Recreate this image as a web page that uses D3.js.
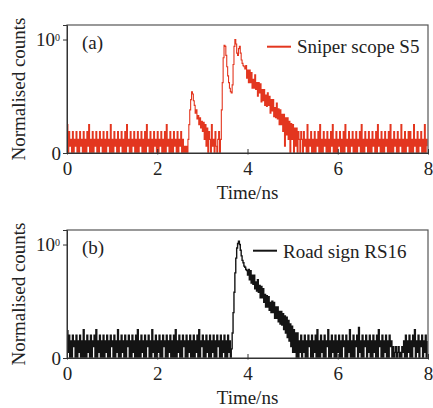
<!DOCTYPE html>
<html>
<head>
<meta charset="utf-8">
<script src="https://cdn.jsdelivr.net/npm/d3@7"></script>
<style>
  body { margin: 0; background: #fff; }
  svg text { font-family: "Liberation Serif", "DejaVu Serif", serif; fill: #222; }
</style>
</head>
<body>
<svg id="chart" width="433" height="408"></svg>
<script>
// time bins are 0.02 ns wide, values in % of peak
const binWidth = 0.02
const xTicks = [0, 2, 4, 6, 8]
const yTicks = [0, 1]
const panelTags = ["(a)", "(b)"]
const seriesNames = ["Sniper scope S5", "Road sign RS16"]
const seriesColors = ["#e3361f", "#141414"]

// (a) sniper scope S5
const sniperCounts = [
  25,0,19,6,12,0,19,0,12,6,19,0,12,0,19,6,12,0,19,0,
  12,0,19,6,25,0,12,0,19,0,12,6,19,0,12,0,19,6,12,0,
  19,0,12,0,19,6,12,0,25,0,12,0,19,6,12,0,19,0,12,6,
  19,0,12,0,19,0,25,6,12,0,19,0,12,6,19,0,12,0,19,0,
  12,6,19,0,12,0,19,0,25,6,12,0,19,0,12,0,19,6,12,0,
  19,0,12,6,19,0,12,0,19,0,25,6,12,0,19,0,12,0,19,6,
  12,0,19,0,12,6,19,0,12,0,6,0,6,0,
  12,25,38,47,54,52,46,42,35,38,30,33,25,31,22,28,19,27,12,25,6,22,
  0,19,12,0,25,6,12,0,19,6,0,12,19,0,
  12,38,62,84,95,94,86,76,68,62,57,54,53,60,78,94,100,96,88,86,
  92,94,88,82,79,77,76,74,77,66,73,62,73,62,71,57,65,57,69,56,
  62,50,62,53,61,45,56,46,56,42,51,41,53,42,50,35,47,37,47,32,
  40,31,44,30,39,25,38,25,34,19,34,6,31,16,31,12,28,0,26,12,
  25,0,22,6,22,0,19,12,0,19,
  12,0,19,6,12,0,25,0,12,6,19,0,12,0,19,0,12,6,19,0,
  25,0,12,0,19,6,12,0,19,0,12,0,19,6,25,0,12,0,19,0,
  12,6,19,0,12,0,19,0,25,6,12,0,19,0,12,6,19,0,12,0,
  19,0,12,6,19,0,25,0,12,0,19,6,12,0,19,0,12,0,19,6,
  12,0,19,0,25,6,12,0,19,0,12,0,19,6,12,0,19,0,25,0,
  12,0,19,6,12,0,19,0,12,6,25,0,12,0,19,0,12,6,19,0,
  19,0,12,0,25,6,12,0,19,0,12,6,19,0,12,0,25,0,12,6
]

// (b) road sign RS16
const roadSignCounts = [
  24,5,20,0,15,0,20,10,15,0,20,0,15,5,20,0,15,0,25,0,
  15,0,20,5,15,0,20,0,15,10,20,0,25,0,15,5,20,0,15,0,
  20,0,15,5,20,0,15,0,20,10,15,0,20,0,15,5,25,0,15,0,
  20,5,15,0,20,0,15,10,20,0,15,0,20,5,15,0,20,0,25,0,
  15,0,20,5,15,0,20,0,15,10,20,0,15,0,25,5,15,0,20,0,
  15,5,20,0,15,0,20,10,15,0,20,0,15,5,20,0,15,0,20,0,
  25,0,15,5,20,0,15,0,20,10,15,0,20,0,15,5,20,0,15,0,
  20,0,15,5,20,0,25,0,15,10,20,0,15,0,20,5,15,0,20,0,
  15,5,20,0,15,0,20,10,15,0,20,0,15,5,20,0,15,0,20,5,15,0,
  8,22,40,58,75,88,97,101,103,100,95,90,86,84,81,80,78,
  77,73,78,69,77,66,73,65,73,61,67,59,69,58,64,53,63,53,61,49,
  56,45,55,45,54,42,49,40,50,40,49,35,45,35,45,32,41,30,41,29,
  39,25,37,22,36,18,33,15,30,10,28,5,25,5,22,0,22,0,15,5,20,
  0,15,5,20,0,15,0,20,10,15,0,20,0,15,5,20,0,25,0,15,
  0,20,5,15,0,20,0,15,10,25,0,15,0,20,5,15,0,20,0,15,
  5,20,0,15,0,20,10,15,0,20,0,15,5,25,0,15,0,20,0,15,
  10,20,0,27,5,15,0,20,0,15,10,20,0,15,5,20,0,15,0,20,
  5,15,0,20,0,25,10,15,0,20,0,15,5,20,0,15,0,20,10,15,
  0,10,0,5,10,0,5,10,0,5,0,10,5,15,0,20,0,15,5,20,
  0,15,0,20,10,25,0,15,5,20,0,15,10,20,0,15,5,20,0,15
]

const allSeries = [sniperCounts, roadSignCounts]

const svg = d3.select("#chart")
const margin = {left: 67, right: 5}
const panelTops = [25, 230]
const panelHeight = 128
const fontSize = "19px"

const x = d3.scaleLinear()
    .domain([0, 8])
    .range([margin.left, 433 - margin.right])

allSeries.forEach((counts, p) => {
    const top = panelTops[p]
    const bottom = top + panelHeight
    const y = d3.scaleLinear()
        .domain([0, 1.128])
        .range([bottom, top])

    const g = svg.append("g")

    // histogram trace, drawn as steps
    const line = d3.line()
        .curve(d3.curveStepAfter)
        .x((d, i) => x(i * binWidth))
        .y(d => y(d / 100))

    g.append("path")
        .datum(counts)
        .attr("d", line)
        .attr("fill", "none")
        .attr("stroke", seriesColors[p])
        .attr("stroke-width", p === 0 ? 1.1 : 1.4)

    // frame
    g.append("rect")
        .attr("x", x(0))
        .attr("y", top)
        .attr("width", x(8) - x(0))
        .attr("height", panelHeight)
        .attr("fill", "none")
        .attr("stroke", "#555")
        .attr("stroke-width", 1.2)

    // x axis (ticks cross the axis line)
    const xAxis = g.append("g")
        .attr("transform", `translate(0, ${bottom})`)
        .call(d3.axisBottom(x).tickValues(xTicks).tickSize(0).tickFormat(d3.format("d")))
    xAxis.select(".domain").attr("stroke", "#333")
    xAxis.selectAll(".tick line")
        .attr("y1", -4)
        .attr("y2", 1.5)
        .attr("stroke", "#333")
    xAxis.selectAll(".tick text")
        .attr("y", 21.5)
        .attr("dy", 0)
        .attr("font-size", fontSize)

    // y axis
    const yAxis = g.append("g")
        .attr("transform", `translate(${x(0)}, 0)`)
        .call(d3.axisLeft(y).tickValues(yTicks).tickSize(4).tickFormat(""))
    yAxis.select(".domain").attr("stroke", "#333")
    yAxis.selectAll(".tick line").attr("stroke", "#333")
    yAxis.selectAll(".tick").each(function(d) {
        const t = d3.select(this).append("text")
            .attr("x", d === 0 ? -6 : -7)
            .attr("dy", "0.33em")
            .attr("text-anchor", "end")
            .attr("font-size", fontSize)
        if (d === 0) {
            t.text("0")
        } else {
            t.text("10")
            t.append("tspan")
                .attr("dy", "-0.5em")
                .attr("font-size", "10px")
                .text("0")
        }
    })

    // axis labels
    g.append("text")
        .attr("transform", `translate(25, ${top + 64}) rotate(-90)`)
        .attr("text-anchor", "middle")
        .attr("font-size", fontSize)
        .text("Normalised counts")

    g.append("text")
        .attr("x", (x(0) + x(8)) / 2)
        .attr("y", bottom + 46)
        .attr("text-anchor", "middle")
        .attr("font-size", fontSize)
        .text("Time/ns")

    // panel tag
    g.append("text")
        .attr("x", 82)
        .attr("y", top + 24)
        .attr("font-size", fontSize)
        .text(panelTags[p])

    // legend
    const legX = p === 0 ? 267 : 253
    const legY = p === 0 ? 21.7 : 20.7
    g.append("line")
        .attr("x1", legX)
        .attr("x2", legX + 24)
        .attr("y1", top + legY)
        .attr("y2", top + legY)
        .attr("stroke", seriesColors[p])
        .attr("stroke-width", 2)
    g.append("text")
        .attr("x", legX + 30)
        .attr("y", top + 27.5)
        .attr("font-size", fontSize)
        .text(seriesNames[p])
})
</script>
</body>
</html>
